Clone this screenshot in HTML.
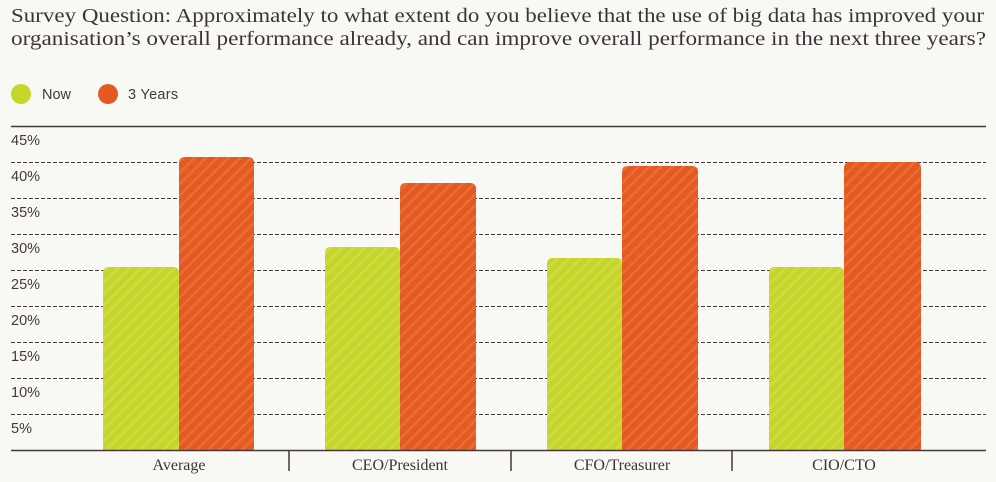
<!DOCTYPE html>
<html><head><meta charset="utf-8"><style>
html,body{margin:0;padding:0;background:#f8f9f4;}
svg{display:block;}
</style></head><body>
<svg width="996" height="482" viewBox="0 0 996 482" xmlns="http://www.w3.org/2000/svg">
<defs>
<pattern id="pg" width="8" height="8" patternUnits="userSpaceOnUse" patternTransform="rotate(45)">
<rect width="8" height="8" fill="#c6d52a"/><rect width="2.5" height="8" fill="#cfdb45"/></pattern>
<pattern id="po" width="8" height="8" patternUnits="userSpaceOnUse" patternTransform="rotate(45)">
<rect width="8" height="8" fill="#e55a23"/><rect width="2.5" height="8" fill="#ea6d35"/></pattern>
</defs>
<rect width="996" height="482" fill="#f8f9f4"/>
<g font-family="'Liberation Serif',serif" font-size="20" fill="#3e3238">
<text x="11" y="22" textLength="973" lengthAdjust="spacingAndGlyphs">Survey Question: Approximately to what extent do you believe that the use of big data has improved your</text>
<text x="11" y="45" textLength="975" lengthAdjust="spacingAndGlyphs">organisation’s overall performance already, and can improve overall performance in the next three years?</text>
</g>
<circle cx="21" cy="94" r="10" fill="#c6d52a"/>
<circle cx="108" cy="94" r="10" fill="#e55a23"/>
<g font-family="'Liberation Sans',sans-serif" font-size="14.5" fill="#45383f">
<text x="42" y="99">Now</text><text x="128" y="99" letter-spacing="0.3">3 Years</text>
</g>
<line x1="11" y1="126.5" x2="986" y2="126.5" stroke="#45383f" stroke-width="1.5"/>
<g stroke="#45383f" stroke-width="1" stroke-dasharray="4,2">
<line x1="11" y1="162.5" x2="986" y2="162.5"/><line x1="11" y1="198.5" x2="986" y2="198.5"/>
<line x1="11" y1="234.5" x2="986" y2="234.5"/><line x1="11" y1="270.5" x2="986" y2="270.5"/>
<line x1="11" y1="306.5" x2="986" y2="306.5"/><line x1="11" y1="342.5" x2="986" y2="342.5"/>
<line x1="11" y1="378.5" x2="986" y2="378.5"/><line x1="11" y1="414.5" x2="986" y2="414.5"/>
</g>
<g font-family="'Liberation Sans',sans-serif" font-size="14.5" fill="#45383f">
<text x="11" y="145">45%</text><text x="11" y="181">40%</text><text x="11" y="217">35%</text>
<text x="11" y="253">30%</text><text x="11" y="289">25%</text><text x="11" y="325">20%</text>
<text x="11" y="361">15%</text><text x="11" y="397">10%</text><text x="11" y="433">5%</text>
</g>
<g>
<path d="M103 450V273q0-6 6-6H173q6 0 6 6V450Z" fill="url(#pg)"/>
<path d="M179 450V163q0-6 6-6H248q6 0 6 6V450Z" fill="url(#po)"/>
<path d="M325 450V253q0-6 6-6H394q6 0 6 6V450Z" fill="url(#pg)"/>
<path d="M400 450V189q0-6 6-6H470q6 0 6 6V450Z" fill="url(#po)"/>
<path d="M547 450V264q0-6 6-6H616q6 0 6 6V450Z" fill="url(#pg)"/>
<path d="M622 450V172q0-6 6-6H692q6 0 6 6V450Z" fill="url(#po)"/>
<path d="M769 450V273q0-6 6-6H838q6 0 6 6V450Z" fill="url(#pg)"/>
<path d="M844 450V168q0-6 6-6H915q6 0 6 6V450Z" fill="url(#po)"/>
</g>
<line x1="11" y1="450.5" x2="986" y2="450.5" stroke="#45383f" stroke-width="1.5"/>
<g stroke="#45383f" stroke-width="1.5">
<line x1="289" y1="450" x2="289" y2="471"/><line x1="511" y1="450" x2="511" y2="471"/><line x1="732" y1="450" x2="732" y2="471"/>
</g>
<g font-family="'Liberation Serif',serif" font-size="16" fill="#3e3238" text-anchor="middle">
<text x="179" y="470">Average</text><text x="400" y="470">CEO/President</text>
<text x="622" y="470">CFO/Treasurer</text><text x="844" y="470">CIO/CTO</text>
</g>
</svg>
</body></html>
